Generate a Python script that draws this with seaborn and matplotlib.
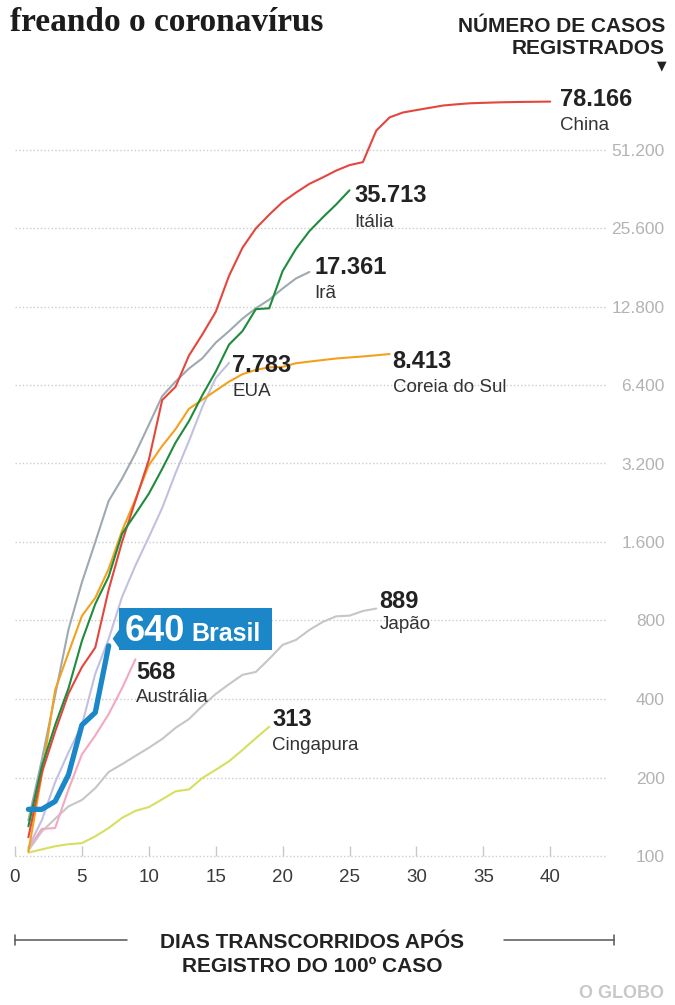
import matplotlib
matplotlib.use("Agg")
import matplotlib.pyplot as plt
import seaborn as sns
import pandas as pd
from matplotlib.patches import Rectangle, Polygon
from matplotlib.lines import Line2D
from matplotlib.transforms import IdentityTransform
from matplotlib.ticker import NullLocator

# ---------------- data (cases from day 1 after the 100th case) ----------------
china = [118, 208, 300, 420, 530, 630, 1050, 1600, 2300, 3300, 5600, 6300, 8300, 10000,
         12200, 16800, 21500, 25500, 28800, 32200, 35000, 37800, 40000, 42500, 44600,
         45800, 60500, 68000, 71000, 72500, 74000, 75500, 76300, 77000, 77300, 77600,
         77800, 77950, 78050, 78166]
italia = [130, 220, 318, 440, 668, 926, 1180, 1720, 2050, 2450, 3050, 3850, 4650, 5850,
          7200, 9150, 10300, 12500, 12600, 17500, 21300, 24900, 28100, 31500, 35713]
ira = [137, 233, 414, 740, 1120, 1600, 2300, 2800, 3500, 4500, 5800, 6600, 7400, 8100,
       9300, 10300, 11500, 12600, 13600, 15000, 16400, 17361]
coreia = [104, 204, 433, 602, 833, 977, 1261, 1766, 2337, 3150, 3736, 4335, 5186, 5621,
          6088, 6593, 7041, 7313, 7478, 7513, 7755, 7869, 7979, 8086, 8162, 8236, 8320, 8413]
eua = [108, 137, 192, 250, 318, 500, 680, 985, 1300, 1670, 2160, 2940, 3900, 5270, 6800, 7783]
brasil = [151, 151, 162, 205, 318, 355, 640]
australia = [107, 127, 128, 180, 245, 290, 350, 440, 568]
japao = [105, 124, 139, 155, 164, 182, 210, 225, 242, 260, 281, 310, 335, 376, 418, 456,
         495, 508, 570, 645, 674, 736, 790, 830, 835, 870, 889]
cingapura = [103, 106, 109, 111, 112, 119, 128, 140, 149, 154, 165, 177, 180, 199, 214,
             231, 255, 283, 313]

series = {
    "Japão": japao, "Cingapura": cingapura, "Austrália": australia, "EUA": eua,
    "Irã": ira, "Coreia do Sul": coreia, "China": china, "Itália": italia, "Brasil": brasil,
}
colors = {
    "China": "#e4463e", "Itália": "#1f8b3d", "Irã": "#9fa9b1", "Coreia do Sul": "#f2a11f",
    "EUA": "#c2c0e0", "Brasil": "#1b87c8", "Austrália": "#f3a8c1", "Japão": "#c6c6c6",
    "Cingapura": "#d7df5e",
}
yticks = [100, 200, 400, 800, 1600, 3200, 6400, 12800, 25600, 51200]
xticks = [0, 5, 10, 15, 20, 25, 30, 35, 40]

rows = []
for name, vals in series.items():
    for i, v in enumerate(vals):
        rows.append({"pais": name, "dia": i + 1, "casos": v})
df = pd.DataFrame(rows)

# ---------------- figure / layout ----------------
sns.set_theme(style="white")
plt.rcParams["font.family"] = ["Liberation Sans", "DejaVu Sans"]

W, H = 675, 1005
fig = plt.figure(figsize=(W / 100, H / 100), dpi=100)
fig.patch.set_facecolor("white")
PX_DAY = 13.38
X0, XR = 15, 605
Y100, YTOP = 856, 80
PX_DBL = 78.5
ax = fig.add_axes([X0 / W, (H - Y100) / H, (XR - X0) / W, (Y100 - YTOP) / H])
ax.set_facecolor("white")
ax.set_yscale("log", base=2)
ax.set_xlim(0, (XR - X0) / PX_DAY)
ax.set_ylim(100, 100 * 2 ** ((Y100 - YTOP) / PX_DBL))

for name in series:
    sub = df[df["pais"] == name]
    lw = 3.8 if name == "Brasil" else 1.5
    sns.lineplot(data=sub, x="dia", y="casos", color=colors[name], linewidth=lw,
                 ax=ax, estimator=None, legend=False,
                 zorder=6 if name == "Brasil" else 3)

# axes styling
for s in ax.spines.values():
    s.set_visible(False)
ax.set_xlabel("")
ax.set_ylabel("")
ax.set_yticks(yticks)
ax.set_yticklabels([f"{v:,}".replace(",", ".") for v in yticks])
ax.yaxis.set_minor_locator(NullLocator())
ax.yaxis.tick_right()
ax.tick_params(axis="y", which="both", length=0, pad=43, labelsize=12.5,
               labelcolor="#b3b3b3", right=False, left=False)
for lbl in ax.get_yticklabels():
    lbl.set_ha("right")
ax.set_xticks(xticks)
ax.set_xticklabels([str(x) for x in xticks])
ax.tick_params(axis="x", bottom=True, direction="in", length=7, width=1,
               color="#c8c8c8", pad=9, labelsize=13.5, labelcolor="#3a3a3a")
ax.grid(axis="y", linestyle=(0, (1, 1.6)), color="#cccccc", linewidth=1)
ax.grid(axis="x", visible=False)
ax.set_axisbelow(True)
for gl in ax.yaxis.get_gridlines():
    gl.set_clip_on(False)

# ---------------- end labels ----------------
label_offsets = {
    "China": ((10, 2), (10, -24)),
    "Itália": ((5, -5), (5, -32)),
    "Irã": ((5, 4), (5, -22)),
    "Coreia do Sul": ((3, -7), (3, -33)),
    "EUA": ((3, -3), (3, -29)),
    "Japão": ((3, 7), (3, -16)),
    "Austrália": ((1, -13), (1, -38)),
    "Cingapura": ((3, 7), (3, -19)),
}
for name, (voff, noff) in label_offsets.items():
    vals = series[name]
    end = (len(vals), vals[-1])
    ax.annotate(f"{vals[-1]:,}".replace(",", "."), xy=end, xytext=voff,
                textcoords="offset pixels", ha="left", va="center",
                fontsize=17, fontweight="bold", color="#222222", zorder=8)
    ax.annotate(name, xy=end, xytext=noff, textcoords="offset pixels",
                ha="left", va="center", fontsize=13.5, color="#333333", zorder=8)

# Brasil highlighted box
fig.canvas.draw()
ex, ey = ax.transData.transform((len(brasil), brasil[-1]))
box_col = colors["Brasil"]
ax.add_patch(Rectangle((ex + 10, ey - 4), 153, 42, transform=IdentityTransform(),
                       facecolor=box_col, edgecolor="none", zorder=9, clip_on=False))
ax.add_patch(Polygon([(ex + 11, ey + 17), (ex + 4, ey + 7), (ex + 11, ey - 3)],
                     closed=True, transform=IdentityTransform(), facecolor=box_col,
                     edgecolor="none", zorder=9, clip_on=False))
ax.text(ex + 16, ey + 5, f"{brasil[-1]}", transform=IdentityTransform(),
        ha="left", va="baseline", fontsize=26, fontweight="bold", color="white",
        zorder=10, clip_on=False)
ax.text(ex + 83, ey + 5, "Brasil", transform=IdentityTransform(),
        ha="left", va="baseline", fontsize=18, fontweight="bold", color="white",
        zorder=10, clip_on=False)

# ---------------- titles and notes ----------------
def fy(py):
    return 1 - py / H

fig.text(10 / W, fy(31), "freando o coronavírus", ha="left", va="baseline",
         fontsize=24, fontweight="bold", color="#1c1c1c",
         family=["Liberation Serif", "DejaVu Serif"])
fig.text(665 / W, fy(32), "NÚMERO DE CASOS", ha="right", va="baseline",
         fontsize=15, fontweight="bold", color="#222222")
fig.text(665 / W, fy(54), "REGISTRADOS", ha="right", va="baseline",
         fontsize=15, fontweight="bold", color="#222222")
fig.text(667 / W, fy(66), "▼", ha="right", va="center", fontsize=9,
         color="#222222", family=["DejaVu Sans"])

fig.text(312 / W, fy(948), "DIAS TRANSCORRIDOS APÓS", ha="center", va="baseline",
         fontsize=15, fontweight="bold", color="#222222")
fig.text(312 / W, fy(972), "REGISTRO DO 100º CASO", ha="center", va="baseline",
         fontsize=15, fontweight="bold", color="#222222")
line_kw = dict(color="#555555", linewidth=1.1, transform=fig.transFigure)
fig.add_artist(Line2D([15 / W, 127 / W], [fy(940), fy(940)], **line_kw))
fig.add_artist(Line2D([15 / W, 15 / W], [fy(935), fy(945)], **line_kw))
fig.add_artist(Line2D([504 / W, 614 / W], [fy(940), fy(940)], **line_kw))
fig.add_artist(Line2D([614 / W, 614 / W], [fy(935), fy(945)], **line_kw))

fig.text(664 / W, fy(998), "O GLOBO", ha="right", va="baseline", fontsize=13,
         fontweight="bold", color="#c8c8c8")

fig.savefig("out.png", dpi=100, facecolor="white")
